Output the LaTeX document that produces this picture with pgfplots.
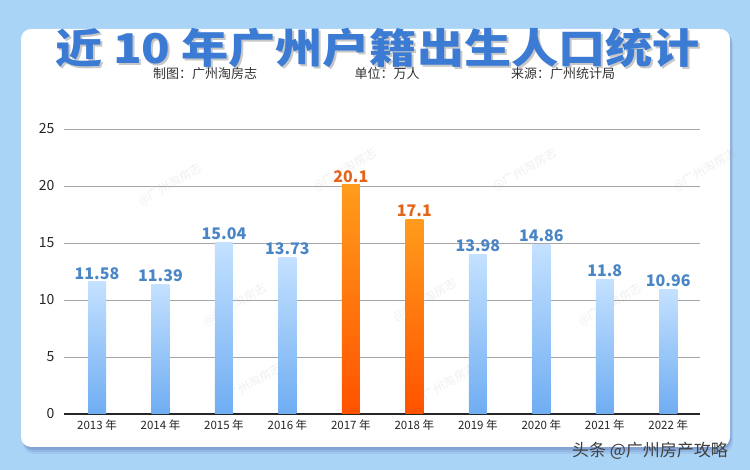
\documentclass[border=0pt]{standalone}
\usepackage{fontspec}
\setmainfont{Noto Sans CJK SC}
\usepackage{graphicx}
\usepackage{pgfplots}
\pgfplotsset{compat=1.18}

\definecolor{bg}{HTML}{A9D4F6}
\definecolor{titleblue}{HTML}{3C7BD4}
\definecolor{lblblue}{HTML}{4A86C6}
\definecolor{lblorange}{HTML}{E2651C}
\definecolor{bartop}{HTML}{C4E1FF}
\definecolor{barbot}{HTML}{6FADF2}
\definecolor{ortop}{HTML}{FF9C1C}
\definecolor{orbot}{HTML}{FF5200}

% one bar per \addplot so that every bar gets its own gradient
\newcommand{\bluebar}[2]{%
  \addplot[ybar, bar width=18pt, bar shift=0pt, draw=none,
    top color=bartop, bottom color=barbot,
    nodes near coords, every node near coord/.append style={text=lblblue}]
    coordinates {(#1,#2)};}
\newcommand{\orangebar}[2]{%
  \addplot[ybar, bar width=18pt, bar shift=0pt, draw=none,
    top color=ortop, bottom color=orbot,
    nodes near coords, every node near coord/.append style={text=lblorange}]
    coordinates {(#1,#2)};}

\begin{document}
\begin{tikzpicture}[x=1pt,y=1pt]
\path[use as bounding box] (0,0) rectangle (750,470);
\fill[bg] (0,0) rectangle (750,470);
% card and its soft shadow
\foreach \o/\a in {7/0.06,5/0.08,3/0.10}
  \fill[blue!40!black, opacity=\a, rounded corners=12] (21+0.3*\o,23-\o) rectangle (730+0.4*\o,441-0.4*\o);
\fill[white, rounded corners=10] (21,23) rectangle (730,441);

% faint watermarks
\foreach \px/\py in {170/285,345/300,525/300,705/300,235/165,425/170,610/165,250/85,445/85}
  \node[rotate=30, text=gray, opacity=0.12, font=\fontsize{12}{12}\selectfont] at (\px,\py) {@广州淘房志};

% title
\node[text=black!22, font=\fontsize{41}{41}\selectfont\bfseries] at (379.5,420)
  {\scalebox{1.15}[1]{近 10 年广州户籍出生人口统计}};
\node[text=titleblue, font=\fontsize{41}{41}\selectfont\bfseries] at (377.5,422)
  {\scalebox{1.15}[1]{近 10 年广州户籍出生人口统计}};

% subtitle
\begin{scope}[every node/.style={text=black!80, font=\fontsize{13}{13}\selectfont}]
\node at (205,396) {制图：广州淘房志};
\node at (387,396) {单位：万人};
\node at (563,396) {来源：广州统计局};
\end{scope}

\begin{axis}[
  at={(64pt,56pt)}, anchor=south west,
  scale only axis, width=636pt, height=285pt,
  xmin=-0.52, xmax=9.5, ymin=0, ymax=25,
  clip=false,
  axis x line*=bottom, axis y line*=left,
  y axis line style={draw=none},
  x axis line style={draw=black!85, line width=1.6pt, -},
  xtick={0,...,9},
  xticklabels={2013 年,2014 年,2015 年,2016 年,2017 年,2018 年,2019 年,2020 年,2021 年,2022 年},
  ytick={0,5,...,25},
  major tick length=0pt,
  ymajorgrids,
  major grid style={draw=black!35, line width=0.9pt},
  xticklabel style={font=\fontsize{11.5}{11.5}\selectfont, text=black!85, yshift=-2pt},
  yticklabel style={font=\fontsize{14}{14}\selectfont, text=black!85, xshift=-6pt},
  /pgf/number format/assume math mode=true,
  nodes near coords style={font=\fontsize{16}{16}\selectfont\bfseries,
    /pgf/number format/fixed, /pgf/number format/precision=2, yshift=-1pt},
]
\bluebar{0}{11.58}
\bluebar{1}{11.39}
\bluebar{2}{15.04}
\bluebar{3}{13.73}
\orangebar{4}{20.1}
\orangebar{5}{17.1}
\bluebar{6}{13.98}
\bluebar{7}{14.86}
\bluebar{8}{11.8}
\bluebar{9}{10.96}
\end{axis}

% platform watermark
\node[text=black!75, font=\fontsize{17}{17}\selectfont] at (650,19) {头条 @广州房产攻略};
\end{tikzpicture}
\end{document}
